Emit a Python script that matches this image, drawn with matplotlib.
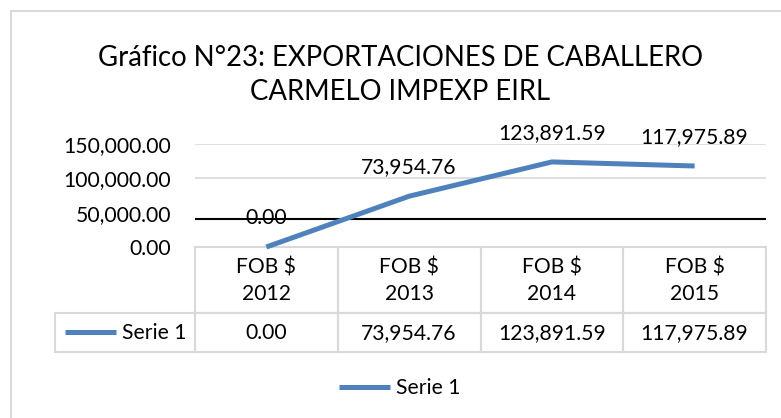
import matplotlib
matplotlib.use('Agg')
import matplotlib.pyplot as plt
from matplotlib.lines import Line2D
from matplotlib.patches import Rectangle
from matplotlib.transforms import blended_transform_factory

# chart data
title = 'Gráfico N°23: EXPORTACIONES DE CABALLERO\nCARMELO IMPEXP EIRL'
series_name = 'Serie 1'
categories = ['FOB $\n2012', 'FOB $\n2013', 'FOB $\n2014', 'FOB $\n2015']
values = [0.00, 73954.76, 123891.59, 117975.89]
yticks = [0, 50000, 100000, 150000]
grid_values = [100000, 150000]
axis_line_value = 41000  # black horizontal axis line, drawn where the original shows it

plt.rcParams['font.family'] = ['Lato', 'DejaVu Sans']
W, H = 781, 418
blue = '#4f81bd'
grey = '#d9d9d9'
fs = 15.2

fig = plt.figure(figsize=(W / 100, H / 100), dpi=100)

# outer chart border (cut off at right and bottom like the original)
fig.patches.append(Rectangle((11 / W, -0.1), 1.2, 1.1 - 11 / H, transform=fig.transFigure,
                             fill=False, edgecolor=grey, linewidth=1.5))

# title
fig.text(400 / W, 1 - 75 / H, title, ha='center', va='center', fontsize=19.8,
         linespacing=1.35, color='black')

# plot area
ax = fig.add_axes([195 / W, 1 - 247 / H, 571 / W, 103 / H])
ax.set_xlim(-0.5, len(values) - 0.5)
ax.set_ylim(0, 150000)
for s in ax.spines.values():
    s.set_visible(False)
ax.set_xticks([])
ax.set_yticks(yticks)
ax.set_yticklabels([f'{v:,.2f}' for v in yticks], fontsize=fs)
ax.tick_params(axis='y', length=0, pad=17)

for g in grid_values:
    ax.axhline(g, color=grey, linewidth=1.2, zorder=1)
ax.axhline(axis_line_value, color='black', linewidth=1.5, zorder=2)

x = list(range(len(values)))
ax.plot(x, values, color=blue, linewidth=3.6, solid_capstyle='butt', zorder=3, clip_on=False)
for i, v in enumerate(values):
    ax.annotate(f'{v:,.2f}', (i, v), xytext=(0, 21), textcoords='offset points',
                ha='center', va='center', fontsize=fs, zorder=4, annotation_clip=False)

# data table under the plot: x in category units, y in figure pixels
tr = blended_transform_factory(ax.transData, fig.transFigure)
def fy(py):
    return 1 - py / H

head_top, head_bot, row_bot = 247, 313, 352
label_left = -0.5 - 140 / 142.75
for i, (cat, v) in enumerate(zip(categories, values)):
    ax.add_patch(Rectangle((i - 0.5, fy(head_bot)), 1, fy(head_top) - fy(head_bot), transform=tr,
                           fill=False, edgecolor=grey, linewidth=1.5, clip_on=False))
    ax.add_patch(Rectangle((i - 0.5, fy(row_bot)), 1, fy(head_bot) - fy(row_bot), transform=tr,
                           fill=False, edgecolor=grey, linewidth=1.5, clip_on=False))
    ax.text(i, fy(281), cat, transform=tr, ha='center', va='center', fontsize=fs,
            linespacing=1.4, clip_on=False)
    ax.text(i, fy(333), f'{v:,.2f}', transform=tr, ha='center', va='center', fontsize=fs,
            clip_on=False)
ax.add_patch(Rectangle((label_left, fy(row_bot)), -0.5 - label_left, fy(head_bot) - fy(row_bot),
                       transform=tr, fill=False, edgecolor=grey, linewidth=1.5, clip_on=False))
lx0 = label_left + 10 / 142.75
ax.add_line(Line2D([lx0, lx0 + 51 / 142.75], [fy(332), fy(332)], transform=tr, color=blue,
                   linewidth=3.6, solid_capstyle='butt', clip_on=False))
ax.text(lx0 + 57 / 142.75, fy(333), series_name, transform=tr, ha='left', va='center',
        fontsize=fs, clip_on=False)

# legend
fig.legend(handles=[Line2D([], [], color=blue, linewidth=3.6, solid_capstyle='butt')],
           labels=[series_name], loc='center', bbox_to_anchor=(400 / W, fy(388)),
           frameon=False, fontsize=fs, handlelength=2.4, handletextpad=0.3)

fig.savefig('out.png', dpi=100)
